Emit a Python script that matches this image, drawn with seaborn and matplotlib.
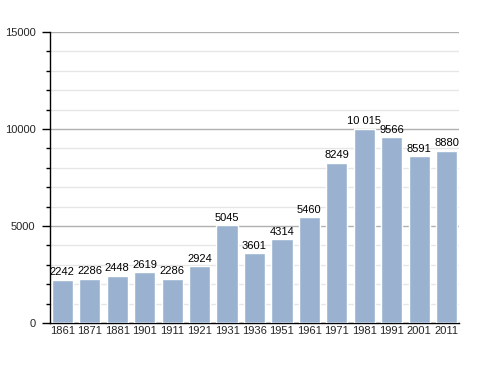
import matplotlib
matplotlib.use('Agg')
import matplotlib.pyplot as plt
import seaborn as sns
import pandas as pd
from matplotlib.ticker import MultipleLocator

years = ['1861', '1871', '1881', '1901', '1911', '1921', '1931', '1936',
         '1951', '1961', '1971', '1981', '1991', '2001', '2011']
population = [2242, 2286, 2448, 2619, 2286, 2924, 5045, 3601,
              4314, 5460, 8249, 10015, 9566, 8591, 8880]
labels = ['2242', '2286', '2448', '2619', '2286', '2924', '5045', '3601',
          '4314', '5460', '8249', '10 015', '9566', '8591', '8880']
yticks = [0, 5000, 10000, 15000]

df = pd.DataFrame({'year': years, 'pop': population})

sns.set_style('white')
plt.rcParams['font.family'] = ['Liberation Sans', 'DejaVu Sans']

fig = plt.figure(figsize=(4.88, 3.73), dpi=100)
ax = fig.add_axes([0.1025, 0.134, 0.838, 0.780])

sns.barplot(data=df, x='year', y='pop', color='#9ab2cf', saturation=1,
            width=0.77, ax=ax, zorder=3)

ax.set_xlim(-0.45, len(years) - 0.55)
ax.set_yticks(yticks, [str(t) for t in yticks])
ax.yaxis.set_minor_locator(MultipleLocator(1000))
ax.set_ylim(0, 15000)
ax.grid(True, which='major', axis='y', color='#b0b0b0', linewidth=1, zorder=0)
ax.grid(True, which='minor', axis='y', color='#e6e6e6', linewidth=1, zorder=0)
ax.set_axisbelow(True)

for s in ['top', 'right']:
    ax.spines[s].set_visible(False)
ax.spines['left'].set_color('black')
ax.spines['bottom'].set_color('black')
ax.spines['left'].set_linewidth(1)
ax.spines['bottom'].set_linewidth(1)

ax.tick_params(axis='y', which='major', direction='out', length=6, width=1,
               color='black', labelsize=8, pad=4.5, left=True)
ax.tick_params(axis='y', which='minor', direction='out', length=3, width=1,
               color='black', left=True)
ax.tick_params(axis='x', length=0, labelsize=8, pad=2.5)

for i, (v, t) in enumerate(zip(population, labels)):
    ax.text(i, v + 130, t, ha='center', va='bottom', fontsize=8, color='black')

ax.set_xlabel('')
ax.set_ylabel('')

fig.savefig('out.png', dpi=100)
